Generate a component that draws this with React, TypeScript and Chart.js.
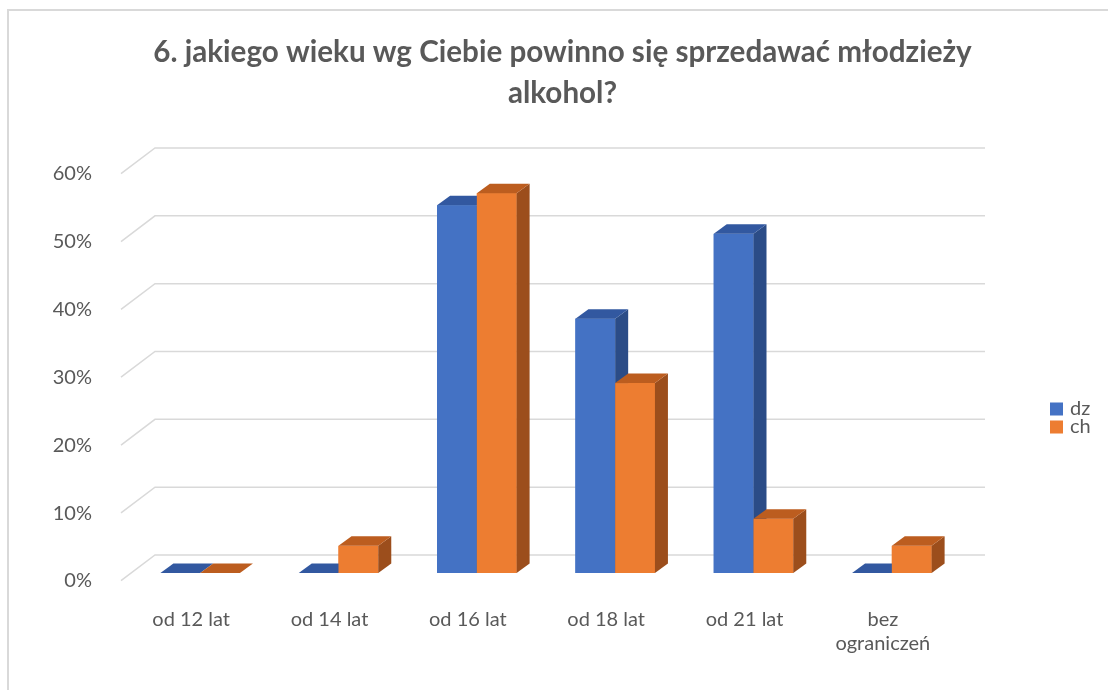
import React, { useEffect, useRef } from 'react';
import { Chart, registerables } from 'chart.js';

Chart.register(...registerables);

const titleLines = ['6. jakiego wieku wg Ciebie powinno się sprzedawać młodzieży', 'alkohol?'];
const categories: (string | string[])[] = ['od 12 lat', 'od 14 lat', 'od 16 lat', 'od 18 lat', 'od 21 lat', ['bez', 'ograniczeń']];
const seriesNames = ['dz', 'ch'];
const dzValues = [0, 0, 54.2, 37.5, 50, 0];
const chValues = [0, 4, 56, 28, 8, 4];
const yTickValues = [0, 10, 20, 30, 40, 50, 60];

const FRONT_COLORS = ['#4472C4', '#ED7D31'];
const TOP_COLORS = ['#3258A0', '#BC5D1F'];
const SIDE_COLORS = ['#2B4C87', '#9C4E1C'];
const TEXT = '#595959';
const GRID = '#D9D9D9';
const FONT = 'Lato, "Open Sans", sans-serif';

const BAR_DEPTH = { dx: 13, dy: -9.5 };
const WALL_FRONT = { dx: -10, dy: 7.7 };
const WALL_BACK = { dx: 24, dy: -18 };

const excel3d = {
  id: 'excel3d',
  beforeDatasetsDraw(chart: any) {
    const { ctx, chartArea, scales } = chart;
    const y = scales.y;
    ctx.save();
    ctx.strokeStyle = GRID;
    ctx.lineWidth = 1.5;
    yTickValues.forEach((v) => {
      const py = y.getPixelForValue(v);
      ctx.beginPath();
      ctx.moveTo(chartArea.left + WALL_FRONT.dx, py + WALL_FRONT.dy);
      ctx.lineTo(chartArea.left + WALL_BACK.dx, py + WALL_BACK.dy);
      ctx.lineTo(chartArea.right + WALL_BACK.dx, py + WALL_BACK.dy);
      ctx.stroke();
    });
    ctx.restore();
  },
  afterDatasetsDraw(chart: any) {
    const { ctx } = chart;
    const metas = [chart.getDatasetMeta(0), chart.getDatasetMeta(1)];
    ctx.save();
    for (let i = 0; i < categories.length; i++) {
      for (let d = 0; d < metas.length; d++) {
        const el = metas[d].data[i];
        if (!el) continue;
        const { x, y, base, width } = el.getProps(['x', 'y', 'base', 'width'], true);
        const left = x - width / 2;
        const right = x + width / 2;
        const top = Math.min(y, base);
        const bottom = Math.max(y, base);
        const { dx, dy } = BAR_DEPTH;
        if (bottom - top > 0.5) {
          ctx.fillStyle = FRONT_COLORS[d];
          ctx.fillRect(left, top, right - left, bottom - top);
          ctx.fillStyle = SIDE_COLORS[d];
          ctx.beginPath();
          ctx.moveTo(right, top);
          ctx.lineTo(right + dx, top + dy);
          ctx.lineTo(right + dx, bottom + dy);
          ctx.lineTo(right, bottom);
          ctx.closePath();
          ctx.fill();
        }
        ctx.fillStyle = TOP_COLORS[d];
        ctx.beginPath();
        ctx.moveTo(left, top);
        ctx.lineTo(left + dx, top + dy);
        ctx.lineTo(right + dx, top + dy);
        ctx.lineTo(right, top);
        ctx.closePath();
        ctx.fill();
      }
    }
    ctx.restore();
  },
  afterDraw(chart: any) {
    const { ctx } = chart;
    ctx.save();
    // border
    ctx.strokeStyle = GRID;
    ctx.lineWidth = 2;
    ctx.beginPath();
    ctx.moveTo(8, 700);
    ctx.lineTo(8, 10);
    ctx.lineTo(1120, 10);
    ctx.stroke();
    // title
    let size = 26;
    ctx.font = `bold ${size}px ${FONT}`;
    const w = ctx.measureText(titleLines[0]).width;
    size = Math.max(18, Math.min(32, (size * 819) / w));
    ctx.font = `bold ${size}px ${FONT}`;
    ctx.fillStyle = TEXT;
    ctx.textAlign = 'center';
    ctx.textBaseline = 'middle';
    ctx.fillText(titleLines[0], 562.5, 52);
    ctx.fillText(titleLines[1], 562.5, 93);
    // legend
    ctx.font = `20px ${FONT}`;
    ctx.textAlign = 'left';
    seriesNames.forEach((name, k) => {
      const cy = 409 + k * 18;
      ctx.fillStyle = FRONT_COLORS[k];
      ctx.fillRect(1050, cy - 6.5, 13, 13);
      ctx.fillStyle = TEXT;
      ctx.fillText(name, 1070, cy);
    });
    ctx.restore();
  },
};

export default function App() {
  const ref = useRef<HTMLCanvasElement | null>(null);
  useEffect(() => {
    if (!ref.current) return;
    const chart = new Chart(ref.current, {
      type: 'bar',
      data: {
        labels: categories,
        datasets: [
          { label: seriesNames[0], data: dzValues, backgroundColor: FRONT_COLORS[0], categoryPercentage: 0.575, barPercentage: 1 },
          { label: seriesNames[1], data: chValues, backgroundColor: FRONT_COLORS[1], categoryPercentage: 0.575, barPercentage: 1 },
        ],
      },
      options: {
        responsive: false,
        animation: false,
        devicePixelRatio: 1,
        layout: { padding: { left: 0, right: 147, top: 166, bottom: 0 } },
        plugins: {
          legend: { display: false },
          title: { display: false },
          tooltip: { enabled: false },
        },
        scales: {
          x: {
            grid: { display: false },
            border: { display: false },
            ticks: {
              color: TEXT,
              font: { family: FONT, size: 20, lineHeight: 1.2 },
              padding: 27,
              labelOffset: -9,
              maxRotation: 0,
              autoSkip: false,
            },
            afterFit: (s: any) => { s.height = 117; },
          },
          y: {
            min: 0,
            max: 60,
            grid: { display: false },
            border: { display: false },
            ticks: {
              stepSize: 10,
              color: TEXT,
              font: { family: FONT, size: 20 },
              padding: 31,
              labelOffset: 8,
              callback: (v: any) => `${v}%`,
            },
            afterFit: (s: any) => { s.width = 131; },
          },
        },
      },
      plugins: [excel3d],
    });
    return () => chart.destroy();
  }, []);
  return (
    <div style={{ position: 'absolute', left: 0, top: 0 }}>
      <canvas ref={ref} width={1108} height={690} style={{ display: 'block' }} />
    </div>
  );
}
